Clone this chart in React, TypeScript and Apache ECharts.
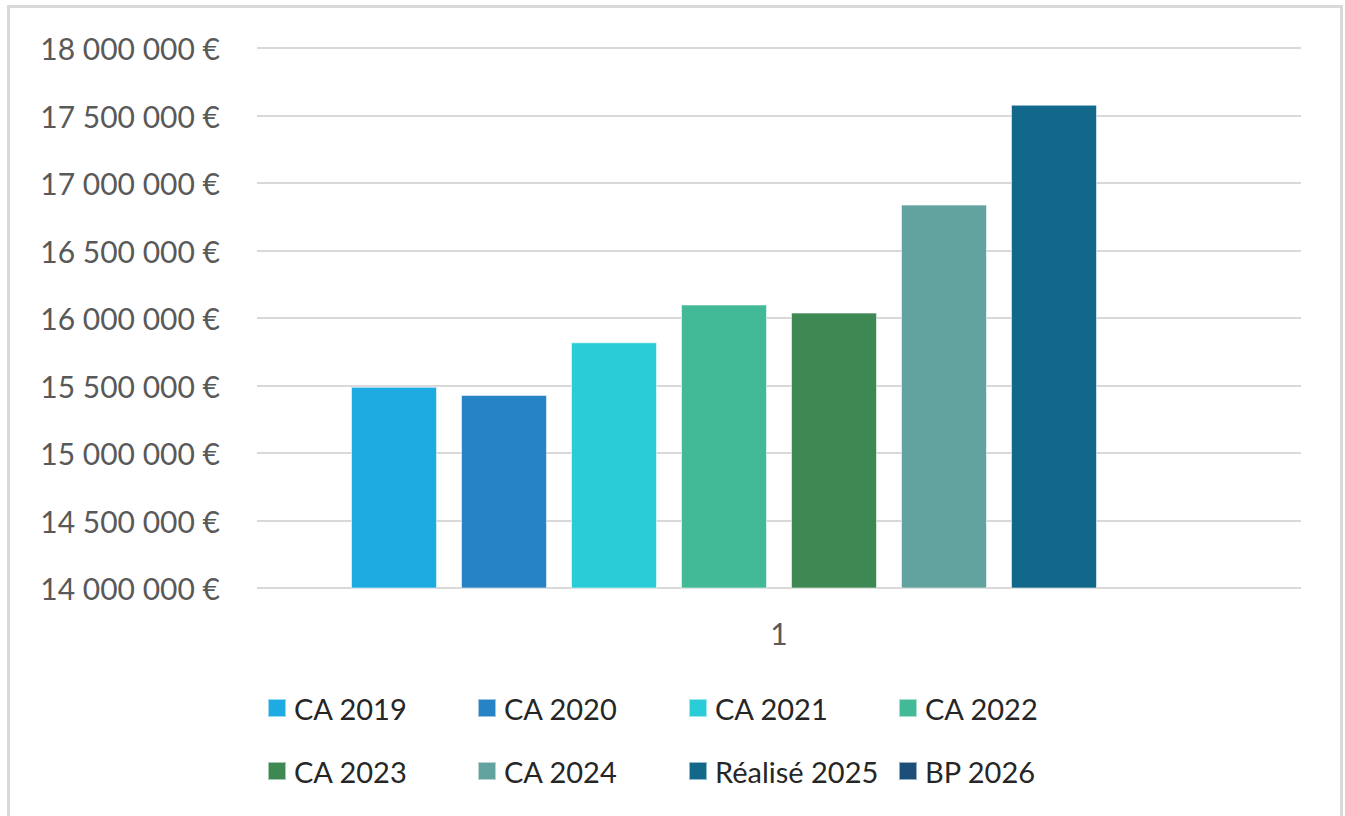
import { useEffect, useRef } from "react";
import * as echarts from "echarts";

// Revenue per year, one category column
const categories = ["1"];
const seriesNames = [
  "CA 2019",
  "CA 2020",
  "CA 2021",
  "CA 2022",
  "CA 2023",
  "CA 2024",
  "Réalisé 2025",
  "BP 2026",
];
const seriesValues: (number | null)[] = [
  15490000, 15430000, 15820000, 16100000, 16040000, 16840000, 17580000, null,
];
const seriesColors = [
  "#1EABE2",
  "#2684C6",
  "#28CDD8",
  "#43BA97",
  "#3E8853",
  "#63A39F",
  "#11688A",
  "#1B4E78",
];
const yMin = 14000000;
const yMax = 18000000;
const yStep = 500000;

const FONT = "Lato, 'Open Sans', sans-serif";

const formatEuro = (v: number) =>
  String(Math.round(v)).replace(/\B(?=(\d{3})+(?!\d))/g, " ") + " €";

// Legend laid out as a 4 x 2 grid
const legendCols = [267, 477, 688, 898];
const legendRows = [708, 771];

export default function App() {
  const ref = useRef<HTMLDivElement>(null);

  useEffect(() => {
    if (!ref.current) return;
    const chart = echarts.init(ref.current, undefined, { renderer: "svg" });

    const series = seriesNames.map((name, i) => ({
      name,
      type: "bar" as const,
      data: [seriesValues[i]],
      barWidth: 86,
      barGap: "27.9%",
      itemStyle: {
        color: seriesColors[i],
        borderColor: "rgba(255,255,255,0.55)",
        borderWidth: 1,
      },
    }));

    const legends = seriesNames.map((name, i) => ({
      data: [name],
      left: legendCols[i % 4],
      top: legendRows[Math.floor(i / 4)] - 15,
      padding: 0,
      itemWidth: 18,
      itemHeight: 18,
      icon: "rect",
      textStyle: {
        fontFamily: FONT,
        fontSize: 29,
        color: "#262626",
        lineHeight: 30,
        padding: [0, 0, 0, 3],
      },
    }));

    chart.setOption({
      animation: false,
      backgroundColor: "#ffffff",
      grid: { left: 257, right: 44, top: 48, bottom: 228, containLabel: false },
      legend: legends,
      xAxis: {
        type: "category",
        data: categories,
        axisLine: { show: false },
        axisTick: { show: false },
        axisLabel: {
          margin: 30,
          fontFamily: FONT,
          fontSize: 30,
          color: "#595959",
        },
      },
      yAxis: {
        type: "value",
        min: yMin,
        max: yMax,
        interval: yStep,
        axisLine: { show: false },
        axisTick: { show: false },
        axisLabel: {
          margin: 37,
          fontFamily: FONT,
          fontSize: 30,
          color: "#595959",
          formatter: (v: number) => formatEuro(v),
        },
        splitLine: { lineStyle: { color: "#D9D9D9", width: 2 } },
      },
      graphic: [
        {
          type: "rect",
          shape: { x: 8.5, y: 6.5, width: 1333, height: 900 },
          style: { fill: "none", stroke: "#D9D9D9", lineWidth: 3 },
          silent: true,
        },
      ],
      series,
    });

    return () => chart.dispose();
  }, []);

  return (
    <div
      ref={ref}
      style={{ position: "absolute", left: 0, top: 0, width: 1345, height: 816 }}
    />
  );
}
